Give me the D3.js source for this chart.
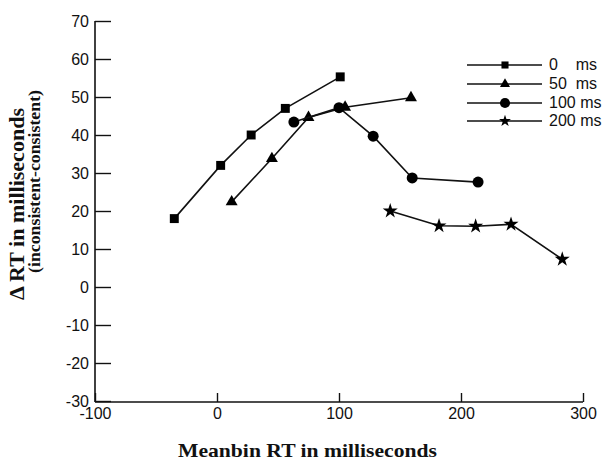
<!DOCTYPE html>
<html>
<head>
<meta charset="utf-8">
<script src="https://cdn.jsdelivr.net/npm/d3@7"></script>
<style>
  html, body { margin: 0; padding: 0; background: #fff; }
  svg { display: block; }
</style>
</head>
<body>
<svg id="chart" width="607" height="464"></svg>
<script>
// ---- data ----
const seriesNames = ["0    ms", "50  ms", "100 ms", "200 ms"];
const s0 = [[-35, 18], [3, 32], [28, 40], [56, 47], [101, 55.3]];
const s50 = [[12, 22.4], [45, 33.8], [75, 44.6], [105, 47.3], [159, 49.8]];
const s100 = [[63, 43.4], [100, 47.2], [128, 39.7], [160, 28.7], [214, 27.6]];
const s200 = [[142, 20], [182, 16.1], [212, 16], [241, 16.5], [283, 7.3]];
const xTicks = [-100, 0, 100, 200, 300];
const yTicks = [-30, -20, -10, 0, 10, 20, 30, 40, 50, 60, 70];

const series = [s0, s50, s100, s200];
const symbols = [d3.symbolSquare, d3.symbolTriangle, d3.symbolCircle, d3.symbolStar];
const symSize = [80, 62, 95, 70];
const legSize = [50, 44, 80, 44];

const svg = d3.select("#chart");
const x = d3.scaleLinear().domain([-100, 300]).range([95, 583]);
const y = d3.scaleLinear().domain([-30, 70]).range([401, 21]);
const sans = "'Liberation Sans', Arial, sans-serif";
const serif = "'Liberation Serif', 'Times New Roman', serif";

// axes
const yAxis = d3.axisLeft(y).tickValues(yTicks).tickSizeInner(-16).tickSizeOuter(0).tickPadding(6)
  .tickFormat(d => d === -30 ? " -30" : String(d));
const xAxis = d3.axisBottom(x).tickValues(xTicks).tickSizeInner(-9).tickSizeOuter(0).tickPadding(6)
  .tickFormat(d => String(d));

const gy = svg.append("g").attr("transform", "translate(95,0)").call(yAxis);
const gx = svg.append("g").attr("transform", "translate(0,402)").call(xAxis);
[gx, gy].forEach(g => {
  g.attr("font-family", null).attr("font-size", null);
  g.select(".domain").remove();
  g.selectAll("line").attr("stroke", "#111").attr("stroke-width", 1.4);
  g.selectAll("text").attr("fill", "#111").style("font-family", sans)
    .style("font-size", "16px").style("white-space", "pre");
});
// axis lines
svg.append("line").attr("x1", 95).attr("x2", 95).attr("y1", y(70)).attr("y2", 402)
  .attr("stroke", "#111").attr("stroke-width", 1.6);
svg.append("line").attr("x1", 95).attr("x2", x(300)).attr("y1", 402).attr("y2", 402)
  .attr("stroke", "#111").attr("stroke-width", 1.6);

// series
const line = d3.line().x(d => x(d[0])).y(d => y(d[1]));
series.forEach((s, i) => {
  svg.append("path").datum(s).attr("d", line).attr("fill", "none")
    .attr("stroke", "#111").attr("stroke-width", 1.6);
  svg.selectAll(null).data(s).enter().append("path")
    .attr("transform", d => `translate(${x(d[0])},${y(d[1])})`)
    .attr("d", d3.symbol().type(symbols[i]).size(symSize[i]))
    .attr("fill", "#000");
});

// legend
const legY = [65, 84, 103, 121];
seriesNames.forEach((name, i) => {
  const g = svg.append("g").attr("transform", `translate(0,${legY[i]})`);
  g.append("line").attr("x1", 467).attr("x2", 542).attr("y1", 0).attr("y2", 0)
    .attr("stroke", "#111").attr("stroke-width", 1.4);
  g.append("path").attr("transform", "translate(505,0)")
    .attr("d", d3.symbol().type(symbols[i]).size(legSize[i])).attr("fill", "#000");
  g.append("text").attr("x", 549).attr("y", 5).text(name)
    .style("font-family", sans).style("font-size", "16px")
    .style("white-space", "pre").attr("fill", "#111");
});

// axis titles
svg.append("text").attr("x", 178).attr("y", 457)
  .attr("textLength", 259).attr("lengthAdjust", "spacingAndGlyphs")
  .style("font-family", serif).style("font-weight", "bold")
  .style("font-size", "19px").attr("fill", "#111").text("Meanbin RT in milliseconds");
svg.append("text").attr("transform", "translate(24,300) rotate(-90)")
  .attr("textLength", 192).attr("lengthAdjust", "spacingAndGlyphs")
  .style("font-family", serif).style("font-weight", "bold")
  .style("font-size", "21px").attr("fill", "#111").text("\u0394 RT in milliseconds");
svg.append("text").attr("transform", "translate(40,273) rotate(-90)")
  .attr("textLength", 183).attr("lengthAdjust", "spacingAndGlyphs")
  .style("font-family", serif).style("font-weight", "bold")
  .style("font-size", "17px").attr("fill", "#111").text("(inconsistent-consistent)");
</script>
</body>
</html>
